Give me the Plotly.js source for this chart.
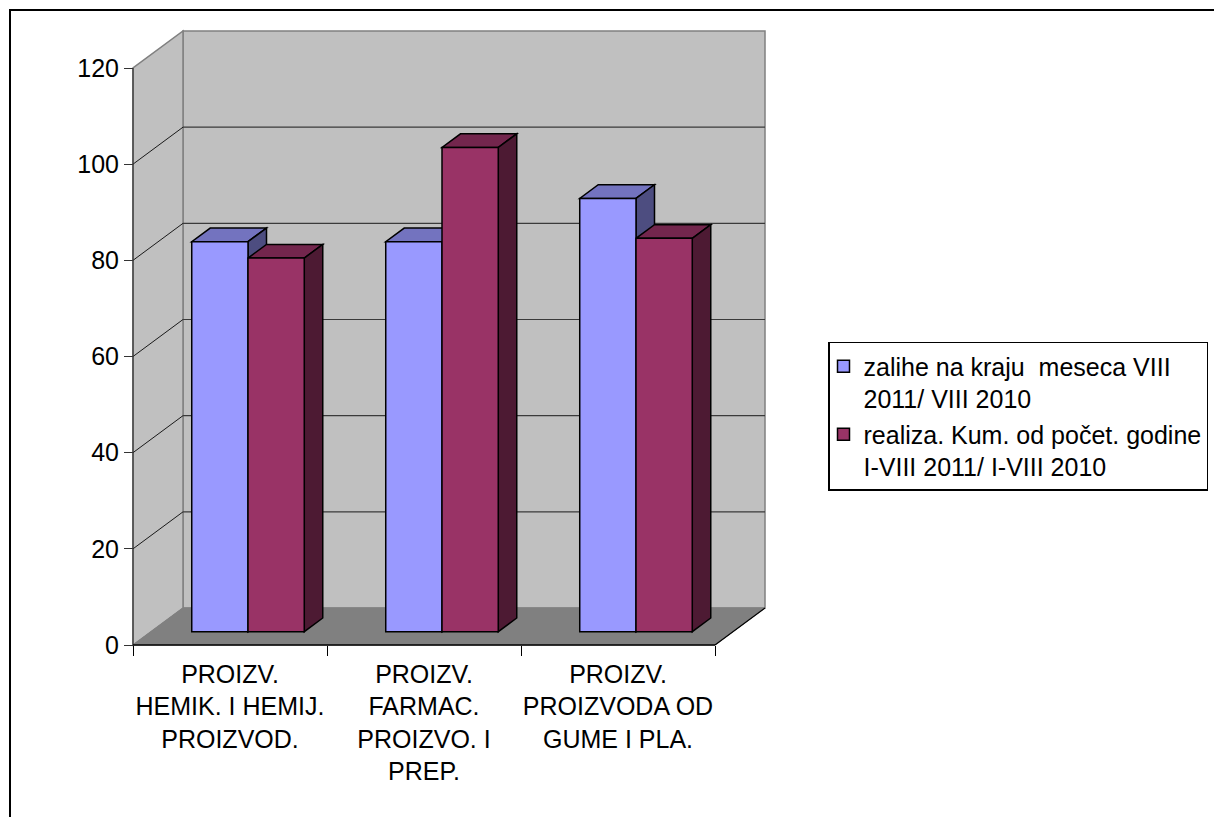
<!DOCTYPE html>
<html><head><meta charset="utf-8">
<script src="https://cdn.plot.ly/plotly-3.0.1.min.js"></script>
<style>html,body{margin:0;padding:0;background:#fff}#chart{width:1214px;height:817px}</style>
</head><body><div id="chart"></div>
<script>
// ---- data ----
const categories = ['PROIZV.<br>HEMIK. I HEMIJ.<br>PROIZVOD.', 'PROIZV.<br>FARMAC.<br>PROIZVO. I<br>PREP.', 'PROIZV.<br>PROIZVODA OD<br>GUME I PLA.'];
const seriesNames = ['zalihe na kraju  meseca VIII<br>2011/ VIII 2010', 'realiza. Kum. od počet. godine<br>I-VIII 2011/ I-VIII 2010'];
const zalihe = [81.1, 81.1, 90.1];
const realiza = [77.7, 100.7, 81.8];
const yTickVals = [0, 20, 40, 60, 80, 100, 120];

// ---- style / geometry ----
const series = [zalihe, realiza];
const frontColors = ['#9999FF', '#993366'];
const topColors = ['#7373BF', '#73264D'];
const sideColors = ['#4D4D80', '#4D1A33'];
const FONT = 'Liberation Sans, Arial, sans-serif';
const FS = 25;

const YMAX = yTickVals[yTickVals.length - 1];
const N = categories.length;
const PXX = 194, PXY = 4.808;          // px per unit
const DX = 50 / PXX, DY = 37 / PXY;    // oblique depth offsets
const F0 = 0.36, F1 = 0.73, W = 0.29;  // bar depth & width
const padX = 2 / PXX, padY = 2 / PXY;
const xa = -0.5, xb = N - 0.5;
const xRange = [xa - padX, xb + DX + padX];
const yRange = [-padY, YMAX + DY + padY];
const left = 133 - 2, bottom = 645 + 2;
const plotW = (xRange[1] - xRange[0]) * PXX;
const plotH = (yRange[1] - yRange[0]) * PXY;
const margin = {l: left, r: 1214 - left - plotW, t: bottom - plotH, b: 817 - bottom, autoexpand: false, pad: 0};
const px2x = p => (p - left) / plotW;
const px2y = p => (bottom - p) / plotH;

const pt = (x, v, f) => [x + f * DX, v + f * DY];
const path = pts => 'M' + pts.map(p => p[0] + ',' + p[1]).join('L') + 'Z';
const lineP = (a, b) => 'M' + a[0] + ',' + a[1] + 'L' + b[0] + ',' + b[1];

const shapes = [];
const S = (d, fill, color, width) => shapes.push({type: 'path', xref: 'x', yref: 'y', layer: 'below', path: d,
  fillcolor: fill || 'rgba(0,0,0,0)', line: {color: color || 'rgba(0,0,0,0)', width: width == null ? 1 : width}});

// outer chart frame
shapes.push({type: 'rect', xref: 'paper', yref: 'paper', layer: 'below',
  x0: px2x(10), y0: px2y(10), x1: px2x(1400), y1: px2y(1000), line: {color: '#000', width: 2}});

// walls & floor
S(path([pt(xa, 0, 1), pt(xb, 0, 1), pt(xb, YMAX, 1), pt(xa, YMAX, 1)]), '#C0C0C0', '#808080', 1.5);
S(path([pt(xa, 0, 0), pt(xa, YMAX, 0), pt(xa, YMAX, 1), pt(xa, 0, 1)]), '#C0C0C0', '#808080', 1.5);
S(path([pt(xa, 0, 0), pt(xa, 0, 1), pt(xb, 0, 1), pt(xb, 0, 0)]), '#808080', '#808080', 1);
// gridlines
yTickVals.filter(v => v > 0 && v < YMAX).forEach(v => {
  S(lineP(pt(xa, v, 1), pt(xb, v, 1)), null, '#3a3a3a', 1.2);
  S(lineP(pt(xa, v, 0), pt(xa, v, 1)), null, '#1a1a1a', 1);
});
// front axes lines
S(lineP(pt(xa, 0, 0), pt(xa, YMAX, 0)), null, '#333', 1.2);
S(lineP(pt(xa, 0, 0), pt(xb, 0, 0)), null, '#000', 1.5);
S(lineP(pt(xb, 0, 0), pt(xb, 0, 1)), null, '#000', 1.2);

// bar top & side faces (computed from data)
for (let i = 0; i < N; i++) {
  series.forEach((vals, s) => {
    const v = vals[i];
    const xl = i - W + s * W, xr = xl + W;
    S(path([pt(xl, v, F0), pt(xr, v, F0), pt(xr, v, F1), pt(xl, v, F1)]), topColors[s], '#000', 1.5);
    S(path([pt(xr, 0, F0), pt(xr, v, F0), pt(xr, v, F1), pt(xr, 0, F1)]), sideColors[s], '#000', 1.5);
  });
}

// front faces as bar traces
const traces = series.map((vals, s) => ({
  type: 'bar',
  name: seriesNames[s],
  x: categories.map((c, i) => i + F0 * DX),
  y: vals,
  base: F0 * DY,
  width: W,
  offset: s === 0 ? -W : 0,
  marker: {color: frontColors[s], line: {color: '#000', width: 1.5}},
  hovertemplate: '%{y}<extra></extra>'
}));

const boundaries = categories.map((c, i) => i - 0.5).concat([N - 0.5]);

const layout = {
  width: 1214, height: 817,
  margin: margin,
  paper_bgcolor: '#fff', plot_bgcolor: 'rgba(0,0,0,0)',
  font: {family: FONT, size: FS, color: '#000'},
  barmode: 'overlay',
  showlegend: true,
  xaxis: {
    range: xRange, anchor: 'free', position: px2y(645),
    tickmode: 'array', tickvals: categories.map((c, i) => i), ticktext: categories,
    ticks: '', ticklabelstandoff: 12, showgrid: false, zeroline: false, showline: false,
    tickfont: {family: FONT, size: FS, color: '#000'},
    minor: {tickmode: 'array', tickvals: boundaries, ticks: 'outside', ticklen: 10, tickwidth: 1, tickcolor: '#000', showgrid: false},
    fixedrange: true
  },
  yaxis: {
    range: yRange, anchor: 'free', position: px2x(133),
    tickmode: 'array', tickvals: yTickVals,
    ticks: 'outside', ticklen: 9, tickwidth: 1, tickcolor: '#333',
    showgrid: false, zeroline: false, showline: false,
    tickfont: {family: FONT, size: FS, color: '#000'},
    fixedrange: true
  },
  legend: {
    x: px2x(828), y: px2y(342), xanchor: 'left', yanchor: 'top',
    valign: 'top', bgcolor: '#fff', bordercolor: '#000', borderwidth: 1.5,
    indentation: -6,
    font: {family: FONT, size: FS, color: '#000'}, tracegroupgap: 0
  },
  shapes: shapes
};

Plotly.newPlot('chart', traces, layout, {displayModeBar: false, staticPlot: false});
</script>
</body></html>
